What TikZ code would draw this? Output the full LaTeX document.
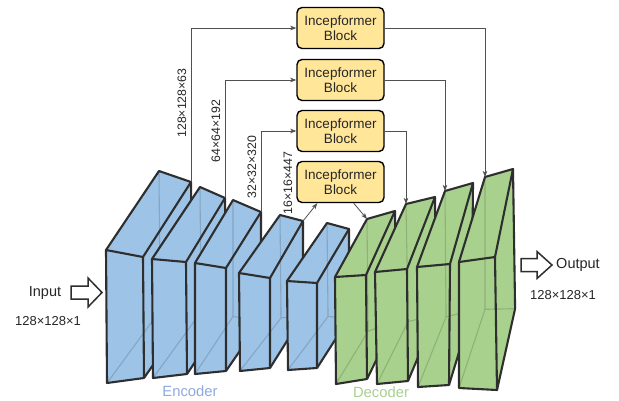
\documentclass[tikz,border=0pt]{standalone}
\usepackage{fontspec}
\setmainfont{Liberation Sans}
\usetikzlibrary{calc,arrows.meta}
\definecolor{bfill}{HTML}{9DC3E6}
\definecolor{gfill}{HTML}{A9D18E}
\definecolor{edgecol}{HTML}{2E2E2E}
\definecolor{blkfill}{HTML}{FFE699}
\definecolor{conncol}{HTML}{505050}
\definecolor{enccol}{HTML}{8FAADC}
\definecolor{deccol}{HTML}{A9D18E}
% #1 name, #2 fTL, #3 fTR, #4 fBR, #5 fBL, #6 bTL, #7 bTR, #8 fill colour
\newcommand{\slabbox}[8]{%
  \coordinate (#1ftl) at #2;
  \coordinate (#1ftr) at #3;
  \coordinate (#1fbr) at #4;
  \coordinate (#1fbl) at #5;
  \coordinate (#1btl) at #6;
  \coordinate (#1btr) at #7;
  \coordinate (#1bbl) at ($(#1btl)+1.05*(#1fbl)-1.05*(#1ftl)$);
  \coordinate (#1bbr) at ($(#1btr)+1.05*(#1fbr)-1.05*(#1ftr)$);
  \fill[#8] (#1ftr)--(#1btr)--(#1bbr)--(#1fbr)--cycle;
  \fill[#8] (#1ftl)--(#1btl)--(#1btr)--(#1ftr)--cycle;
  \fill[#8] (#1ftl)--(#1ftr)--(#1fbr)--(#1fbl)--cycle;
  \draw[hiddenedge,#8!70!black] (#1btl)--(#1bbl)--(#1fbl) (#1bbl)--(#1bbr);
  \draw[slabedge] (#1ftl)--(#1ftr)--(#1fbr)--(#1fbl)--cycle;
  \draw[slabedge] (#1ftl)--(#1btl)--(#1btr)--(#1ftr);
  \draw[slabedge] (#1btr)--(#1bbr)--(#1fbr);
}
\begin{document}
\begin{tikzpicture}[x=1pt,y=-1pt,
  slabedge/.style={draw=edgecol,line width=2.1pt,line join=round},
  hiddenedge/.style={line width=1.1pt,draw opacity=0.5},
  block/.style={draw=black,line width=1.4pt,fill=blkfill,rounded corners=5pt,
    minimum width=87pt,minimum height=41pt,inner sep=0pt,align=center,
    font=\fontsize{13.5}{15.5}\selectfont,text=black!85},
  skipconn/.style={draw=conncol,line width=0.8pt,
    -{Stealth[length=6pt,width=4.5pt,inset=1.5pt]}},
  dimlab/.style={rotate=90,inner sep=0pt,font=\fontsize{12.3}{14}\selectfont,text=black!85},
  iolab/.style={inner sep=0pt,font=\fontsize{14.5}{16}\selectfont,text=black!85},
  sizelab/.style={inner sep=0pt,font=\fontsize{13}{15}\selectfont,text=black!85},
  partlab/.style={inner sep=0pt,font=\fontsize{14.8}{17}\selectfont},
  ioarrow/.style={draw=edgecol,fill=white,line width=1.5pt,line join=miter}]
\useasboundingbox (0,0) rectangle (619,400);
\fill[white] (0,0) rectangle (619,400);

% encoder slabs
\slabbox{ea}{(106,250)}{(143,257)}{(144,378)}{(107,383)}{(159,171)}{(191,182)}{bfill}
\slabbox{eb}{(152,259)}{(186,262)}{(187,374)}{(153,378)}{(200,187)}{(225,198)}{bfill}
\slabbox{ec}{(195,263)}{(226,268)}{(226,371)}{(195,374)}{(233,200)}{(261,212)}{bfill}
\slabbox{ed}{(239,273)}{(270,278)}{(270,368)}{(240,371)}{(280,215)}{(303,221)}{bfill}
\slabbox{ee}{(287,281)}{(317,283)}{(317,368)}{(288,370)}{(327,223)}{(349,229)}{bfill}
% decoder slabs
\slabbox{da}{(335,277)}{(366,275)}{(367,379)}{(336,384)}{(367,219)}{(395,211)}{gfill}
\slabbox{db}{(375,272)}{(407,269)}{(408,381)}{(377,384)}{(406,204)}{(435,197)}{gfill}
\slabbox{dc}{(417,267)}{(450,264)}{(449,385)}{(418,387)}{(445,191)}{(473,183)}{gfill}
\slabbox{dd}{(459,262)}{(495,257)}{(497,390)}{(459,388)}{(485,177)}{(513,169)}{gfill}

% Incepformer blocks
\node[block] (b1) at (340.5,28) {Incepformer\\Block};
\node[block] (b2) at (340.5,80) {Incepformer\\Block};
\node[block] (b3) at (340.5,131) {Incepformer\\Block};
\node[block] (b4) at (340.5,182) {Incepformer\\Block};

% skip connections
\draw[skipconn] (eabtr) |- (b1.west);
\draw[skipconn] (b1.east) -| (ddbtl);
\draw[skipconn] (ebbtr) |- (b2.west);
\draw[skipconn] (b2.east) -| (dcbtl);
\draw[skipconn] (ecbtr) |- (b3.west);
\draw[skipconn] (b3.east) -| (dbbtl);
\draw[skipconn] (edbtr) -- ([xshift=21pt]b4.south west);
\draw[skipconn] ([xshift=-31pt]b4.south east) -- (dabtl);

% dimension labels
\node[dimlab] (l1) at (182,103) {128×128×63};
\node[dimlab] (l2) at (216,131) {64×64×192};
\node[dimlab] (l3) at (252,167) {32×32×320};
\node[dimlab] (l4) at (288,183) {16×16×447};

% input / output
\draw[ioarrow] (71,286)--(88,286)--(88,278)--(102,292.5)--(88,307)--(88,299)--(71,299)--cycle;
\draw[ioarrow] (521,258.5)--(537,258.5)--(537,251.5)--(552,265)--(537,278.5)--(537,271.5)--(521,271.5)--cycle;
\node[iolab] (inp) at (45,293) {Input};
\node[sizelab] (inps) at (48,321) {128×128×1};
\node[iolab] (outp) at (578,265) {Output};
\node[sizelab] (outps) at (563,295) {128×128×1};

% part labels
\node[partlab,text=enccol] (enc) at (190,391.5) {Encoder};
\node[partlab,text=deccol] (dec) at (381,392.5) {Decoder};
\end{tikzpicture}
\end{document}
